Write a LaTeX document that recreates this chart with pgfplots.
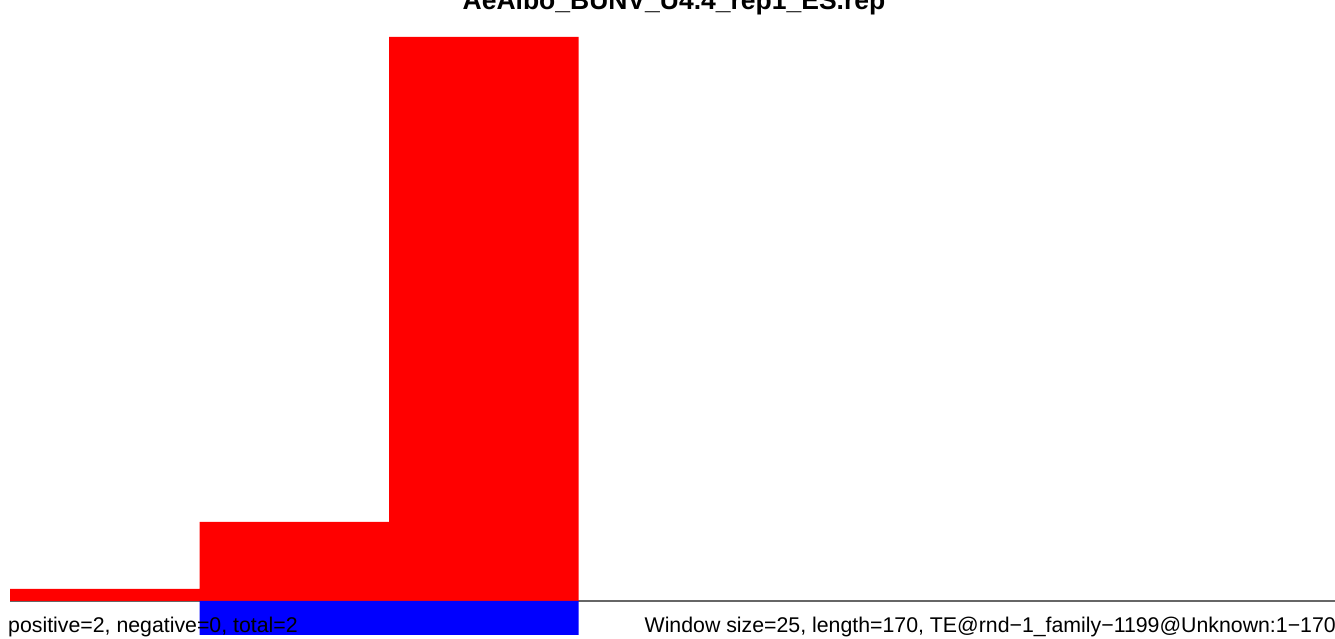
\documentclass[border=0pt]{standalone}
\usepackage{pgfplots}
\pgfplotsset{compat=1.18}
\usepackage{fontspec}
\setmainfont{Liberation Sans}
\begin{document}
\begin{tikzpicture}
\begin{axis}[at={(0pt,0pt)}, anchor=south west, scale only axis,
  width=1335pt, height=639pt,
  xmin=-1.32, xmax=174.8, ymin=-38, ymax=601,
  axis lines=none, ticks=none]
\addplot[black!60, line width=1.2pt, no marks] coordinates {(0,0) (176,0)};
\addplot[ybar interval, fill=red, draw=none] coordinates {(0,12) (25,79) (50,564) (75,564)};
\addplot[ybar interval, fill=blue, draw=none] coordinates {(25,-34) (50,-34) (75,-34)};
\end{axis}
\node[anchor=base, font=\bfseries\fontsize{26.5}{30}\selectfont] at (674pt,629pt) {AeAlbo\_BUNV\_U4.4\_rep1\_ES.rep};
\node[anchor=base west, inner sep=0pt, font=\fontsize{21.3}{25}\selectfont] at (8pt,6pt) {positive=2, negative=0, total=2};
\node[anchor=base east, inner sep=0pt, font=\fontsize{21.3}{25}\selectfont] at (1336pt,6pt) {Window size=25, length=170, TE@rnd−1\_family−1199@Unknown:1−170};
\pgfresetboundingbox
\path[use as bounding box] (0pt,0pt) rectangle (1335pt,639pt);
\end{tikzpicture}
\end{document}
